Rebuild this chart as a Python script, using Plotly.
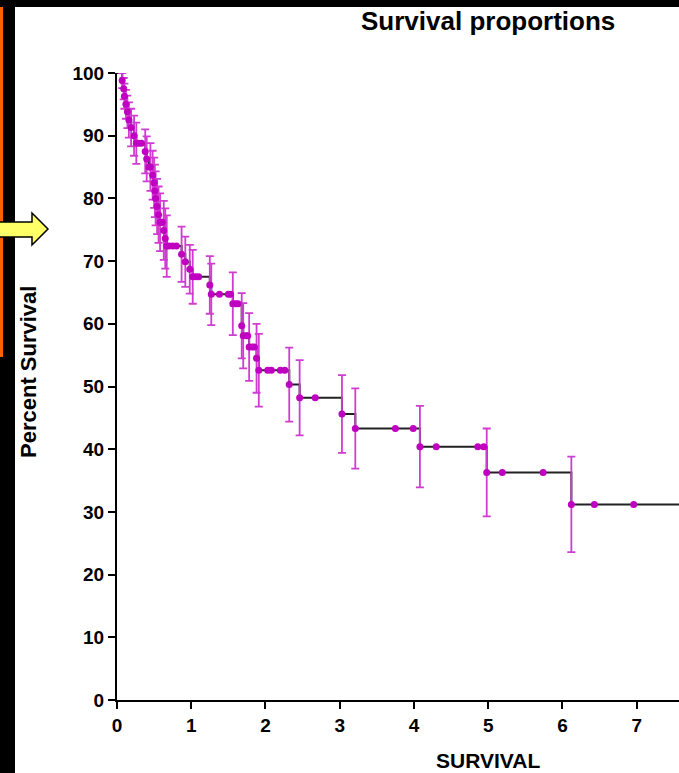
import plotly.graph_objects as go

# ---------------- data ----------------
event_times = [0.07, 0.09, 0.10, 0.12, 0.14, 0.16, 0.19, 0.23, 0.26, 0.38, 0.40, 0.45,
               0.48, 0.50, 0.51, 0.52, 0.54, 0.56, 0.58, 0.63, 0.65, 0.67, 0.87, 0.92,
               0.98, 1.02, 1.25, 1.27, 1.56, 1.68, 1.70, 1.78, 1.88, 1.91, 2.32, 2.46,
               3.03, 3.21, 4.08, 4.98, 6.12]
event_surv = [98.8, 97.5, 96.3, 95.0, 93.8, 92.5, 91.3, 90.0, 88.8, 87.5, 86.3, 85.0,
              83.7, 82.5, 81.2, 80.0, 78.7, 77.4, 76.2, 74.9, 73.6, 72.4, 71.1, 69.9,
              68.7, 67.5, 66.2, 64.7, 63.2, 59.7, 58.1, 56.3, 54.5, 52.6, 50.3, 48.2,
              45.6, 43.3, 40.4, 36.3, 31.2]
event_err = [1.2, 1.7, 2.0, 2.3, 2.6, 2.8, 3.0, 3.2, 3.3, 3.5, 3.6, 3.8,
             3.9, 4.0, 4.2, 4.3, 4.4, 4.5, 4.6, 4.7, 4.8, 4.9, 4.4, 4.0,
             3.9, 4.3, 4.6, 4.9, 5.0, 5.2, 5.2, 5.4, 5.5, 5.8, 5.9, 6.0,
             6.2, 6.4, 6.5, 7.0, 7.6]

cens_times = [0.29, 0.33, 0.43, 0.60, 0.61, 0.70, 0.75, 0.80, 1.06, 1.10, 1.38, 1.50,
              1.53, 1.60, 1.63, 1.74, 1.76, 1.82, 1.85, 2.03, 2.08, 2.20, 2.26, 2.67,
              3.75, 3.99, 4.30, 4.86, 4.94, 5.19, 5.74, 6.43, 6.96]
cens_surv = [88.8, 88.8, 85.0, 76.2, 76.2, 72.4, 72.4, 72.4, 67.5, 67.5, 64.7, 64.7,
             64.7, 63.2, 63.2, 58.1, 58.1, 56.3, 56.3, 52.6, 52.6, 52.6, 52.6, 48.2,
             43.3, 43.3, 40.4, 40.4, 40.4, 36.3, 36.3, 31.2, 31.2]

start_time, start_surv = 0.0, 100.0
last_followup = 7.9

x_ticks = [0, 1, 2, 3, 4, 5, 6, 7]
y_ticks = [0, 10, 20, 30, 40, 50, 60, 70, 80, 90, 100]

title_text = "Survival proportions"
x_title = "SURVIVAL"
y_title = "Percent Survival"

# ---------------- build step line ----------------
pts = [(start_time, start_surv)] + list(zip(event_times, event_surv)) + list(zip(cens_times, cens_surv))
pts.sort(key=lambda p: (p[0], -p[1]))
pts.append((last_followup, pts[-1][1]))
line_x = [p[0] for p in pts]
line_y = [p[1] for p in pts]

W, H = 679, 773
ML, MR, MT, MB = 117, 0, 73, 73
PW, PH = W - ML - MR, H - MT - MB


def px(x):
    return (x - ML) / PW


def py(y):
    return (H - MB - y) / PH


MAG = "#C000C0"
ERR = "#D03CD0"
FONT = "Liberation Sans, Arial, sans-serif"

fig = go.Figure()
fig.add_trace(go.Scatter(x=line_x, y=line_y, mode="lines", line_shape="hv",
                         line=dict(color="#222222", width=2), hoverinfo="skip",
                         showlegend=False))
fig.add_trace(go.Scatter(x=event_times, y=event_surv, mode="markers",
                         marker=dict(color=MAG, size=7, symbol="circle"),
                         error_y=dict(type="data", array=event_err, visible=True,
                                      color=ERR, thickness=1.8, width=4),
                         showlegend=False, cliponaxis=False))
fig.add_trace(go.Scatter(x=cens_times, y=cens_surv, mode="markers",
                         marker=dict(color=MAG, size=7, symbol="circle"),
                         showlegend=False, cliponaxis=False))

axis_font = dict(family=FONT, size=19, color="black", weight="bold")

fig.update_xaxes(range=[0, PW / 74.24], tickvals=x_ticks, ticktext=[str(v) for v in x_ticks],
                 showline=True, linecolor="black", linewidth=2, ticks="outside",
                 ticklen=7, tickwidth=2, tickcolor="black", showgrid=False, zeroline=False,
                 tickfont=axis_font)
fig.update_yaxes(range=[0, 100], tickvals=y_ticks, ticktext=[str(v) for v in y_ticks],
                 showline=True, linecolor="black", linewidth=2, ticks="outside",
                 ticklen=7, tickwidth=2, tickcolor="black", showgrid=False, zeroline=False,
                 tickfont=axis_font)

shapes = [
    # left black strip
    dict(type="rect", xref="paper", yref="paper", x0=px(0), x1=px(15), y0=py(0), y1=py(H),
         fillcolor="black", line=dict(width=0), layer="above"),
    # top black strip
    dict(type="rect", xref="paper", yref="paper", x0=px(0), x1=px(W), y0=py(0), y1=py(7),
         fillcolor="black", line=dict(width=0), layer="above"),
    # orange strip
    dict(type="rect", xref="paper", yref="paper", x0=px(0), x1=px(3), y0=py(7), y1=py(357),
         fillcolor="#FF6000", line=dict(width=0), layer="above"),
]
arrow_pts = [(-2, 222), (32, 222), (32, 213), (48, 229), (32, 245), (32, 237), (-2, 237)]
path = "M " + " L ".join(f"{px(a):.5f},{py(b):.5f}" for a, b in arrow_pts) + " Z"
shapes.append(dict(type="path", xref="paper", yref="paper", path=path,
                   fillcolor="#FFFF66", line=dict(color="black", width=1.5), layer="above"))

annotations = [
    dict(text=title_text, xref="paper", yref="paper", x=px(488), y=py(21), showarrow=False,
         xanchor="center", yanchor="middle",
         font=dict(family=FONT, size=26, color="black", weight="bold")),
    dict(text=x_title, xref="paper", yref="paper", x=px(488), y=py(760), showarrow=False,
         xanchor="center", yanchor="middle",
         font=dict(family=FONT, size=21, color="black", weight="bold")),
    dict(text=y_title, xref="paper", yref="paper", x=px(28), y=py(372), showarrow=False,
         xanchor="center", yanchor="middle", textangle=-90,
         font=dict(family=FONT, size=22, color="black", weight="bold")),
]

fig.update_layout(width=W, height=H, margin=dict(l=ML, r=MR, t=MT, b=MB, pad=0),
                  paper_bgcolor="white", plot_bgcolor="white",
                  shapes=shapes, annotations=annotations, showlegend=False)

fig.write_html("out.html", include_plotlyjs=True, config={"displayModeBar": False},
               post_script="document.body.style.margin='0';document.body.style.overflow='hidden';")
